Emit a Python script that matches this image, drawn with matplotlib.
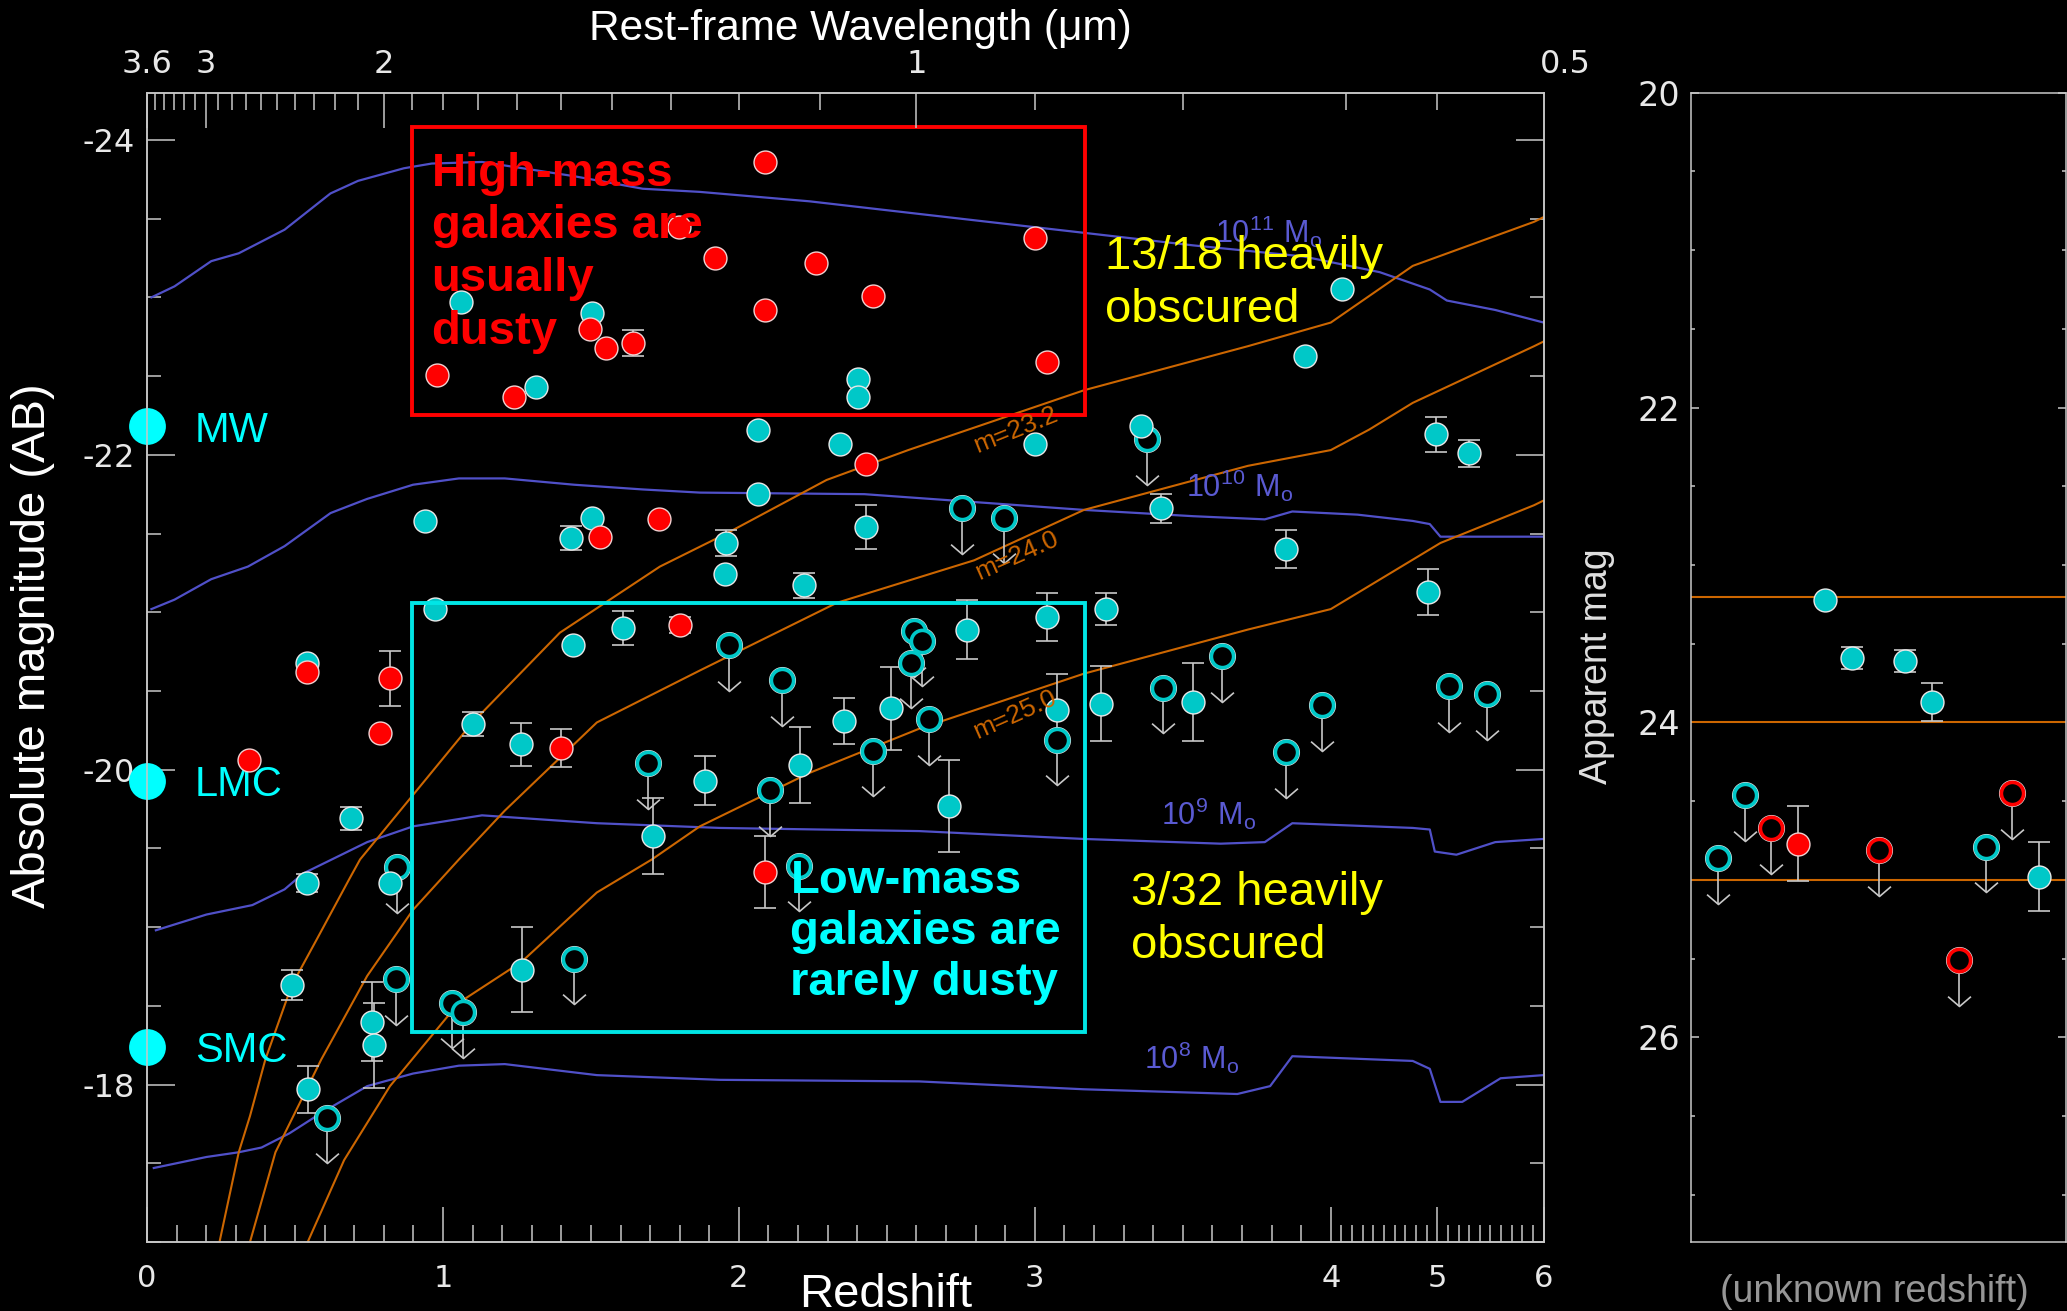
import numpy as np
import matplotlib
matplotlib.use("Agg")
import matplotlib.pyplot as plt
from matplotlib.path import Path
from matplotlib.patches import Rectangle
from matplotlib.ticker import MultipleLocator, FixedLocator

plt.rcParams['font.family'] = ['Liberation Sans', 'DejaVu Sans']
plt.rcParams['mathtext.fontset'] = 'custom'
plt.rcParams['mathtext.rm'] = 'Liberation Sans'
plt.rcParams['axes.unicode_minus'] = False

W, H = 2067, 1311

# ----------------------------
# Data
# ----------------------------

# mass tracks (redshift, absolute magnitude)
TRACK_11_Z = [0.015, 0.093, 0.217, 0.31, 0.465, 0.62, 0.713, 0.868, 0.962, 1.132, 1.442, 1.675,
              1.868, 2.239, 2.609, 2.98, 3.166, 3.536, 3.907, 4.46, 4.93, 5.09, 5.545, 6.0]
TRACK_11_M = [-23.0, -23.07, -23.23, -23.28, -23.43, -23.66, -23.74, -23.82, -23.85, -23.86, -23.77, -23.69,
              -23.67, -23.61, -23.53, -23.45, -23.41, -23.33, -23.26, -23.16, -23.05, -22.98, -22.92, -22.84]
TRACK_10_Z = [0.015, 0.093, 0.217, 0.341, 0.465, 0.62, 0.744, 0.899, 1.054, 1.209, 1.443, 1.675,
              1.868, 2.424, 2.795, 3.166, 3.536, 3.777, 3.87, 4.25, 4.77, 4.93, 5.03, 5.545, 6.0]
TRACK_10_M = [-21.02, -21.08, -21.21, -21.29, -21.42, -21.63, -21.72, -21.81, -21.85, -21.85, -21.81, -21.78,
              -21.76, -21.75, -21.70, -21.65, -21.61, -21.59, -21.64, -21.62, -21.58, -21.56, -21.48, -21.48, -21.48]
TRACK_9_Z = [0.03, 0.201, 0.356, 0.465, 0.527, 0.744, 0.899, 1.132, 1.209, 1.52, 1.936, 2.609,
             3.166, 3.628, 3.777, 3.87, 4.77, 4.93, 4.977, 5.18, 5.545, 6.0]
TRACK_9_M = [-18.98, -19.08, -19.14, -19.24, -19.34, -19.54, -19.64, -19.71, -19.70, -19.66, -19.63, -19.61,
             -19.56, -19.53, -19.54, -19.66, -19.63, -19.62, -19.48, -19.46, -19.54, -19.56]
TRACK_8_Z = [0.023, 0.201, 0.31, 0.387, 0.481, 0.589, 0.744, 0.899, 1.054, 1.209, 1.52, 1.936,
             2.609, 3.166, 3.684, 3.795, 3.87, 4.77, 4.93, 5.03, 5.235, 5.595, 6.0]
TRACK_8_M = [-17.47, -17.54, -17.57, -17.60, -17.69, -17.82, -17.99, -18.07, -18.12, -18.13, -18.06, -18.03,
             -18.02, -17.97, -17.94, -17.99, -18.18, -18.15, -18.10, -17.89, -17.89, -18.04, -18.06]
TRACK_LABELS = ['$\\mathregular{10^{11}\\ M_o}$', '$\\mathregular{10^{10}\\ M_o}$',
                '$\\mathregular{10^{9}\\ M_o}$', '$\\mathregular{10^{8}\\ M_o}$']

# apparent magnitude limits
MAG_LIMITS = [23.2, 24.0, 25.0]
LIM_232_Z = [0.245, 0.31, 0.348, 0.40, 0.489, 0.573, 0.682, 0.72, 1.10, 1.395, 1.733, 1.958,
             2.296, 2.572, 3.166, 3.72, 4.0, 4.77, 5.91, 6.0]
LIM_232_M = [-17.0, -17.57, -17.80, -18.16, -18.63, -18.92, -19.30, -19.43, -20.30, -20.87, -21.29, -21.50,
             -21.84, -22.03, -22.41, -22.69, -22.84, -23.20, -23.48, -23.51]
LIM_240_Z = [0.348, 0.434, 0.589, 0.744, 0.899, 1.054, 1.209, 1.52, 1.868, 2.331, 2.795, 3.166,
             3.72, 4.0, 4.36, 4.77, 5.91, 6.0]
LIM_240_M = [-17.0, -17.57, -18.16, -18.69, -19.11, -19.43, -19.74, -20.30, -20.63, -21.06, -21.33, -21.65,
             -21.93, -22.03, -22.16, -22.33, -22.69, -22.72]
LIM_250_Z = [0.543, 0.666, 0.821, 1.054, 1.266, 1.52, 1.706, 1.868, 2.239, 2.609, 3.166, 3.72,
             4.0, 5.03, 5.91, 6.0]
LIM_250_M = [-17.0, -17.52, -17.99, -18.52, -18.78, -19.22, -19.43, -19.64, -19.98, -20.26, -20.61, -20.89,
             -21.02, -21.44, -21.68, -21.71]

# detected, not dusty (filled cyan)
CYAN_Z = [1.062, 1.315, 1.504, 2.402, 2.402, 4.11, 3.912, 2.063, 2.341, 3.002, 3.36, 4.99, 5.30,
          2.063, 2.43, 3.425, 3.85, 1.957, 1.952, 2.22, 3.24, 4.91, 3.04, 2.77, 2.354, 2.513,
          2.207, 2.711, 1.887, 3.225, 3.536, 3.076, 0.938, 1.504, 1.434, 0.972, 1.439, 1.61,
          0.542, 1.101, 1.264, 1.709, 0.69, 0.542, 0.822, 0.489, 0.759, 0.768, 0.545, 1.266]
CYAN_M = [-22.97, -22.43, -22.90, -22.48, -22.37, -23.05, -22.63, -22.16, -22.07, -22.07, -22.18, -22.13, -22.01,
          -21.75, -21.54, -21.66, -21.40, -21.44, -21.24, -21.17, -21.02, -21.13, -20.97, -20.89, -20.31, -20.39,
          -20.03, -19.77, -19.93, -20.42, -20.43, -20.38, -21.58, -21.60, -21.47, -21.02, -20.79, -20.90,
          -20.68, -20.29, -20.16, -19.58, -19.69, -19.28, -19.28, -18.63, -18.40, -18.25, -17.97, -18.73]
CYAN_ERR = [0, 0, 0, 0, 0, 0, 0, 0, 0, 0, 0, 0.11, 0.085,
            0, 0.14, 0.09, 0.12, 0.08, 0, 0.08, 0.10, 0.145, 0.15, 0.19, 0.145, 0.265,
            0.24, 0.29, 0.155, 0.24, 0.245, 0.23, 0, 0, 0.075, 0, 0, 0.11,
            0, 0.075, 0.135, 0.24, 0.075, 0.06, 0, 0.095, 0.25, 0.27, 0.15, 0.27]

# heavily obscured (filled red)
RED_Z = [0.98, 1.241, 1.497, 1.551, 1.641, 1.797, 1.92, 2.087, 2.261, 2.087, 2.452, 3.002,
         3.04, 2.43, 1.532, 1.729, 1.802, 0.542, 0.822, 0.786, 0.346, 1.399, 2.087]
RED_M = [-22.51, -22.37, -22.80, -22.68, -22.71, -23.45, -23.25, -23.86, -23.22, -22.92, -23.01, -23.38,
         -22.59, -21.94, -21.48, -21.59, -20.92, -20.62, -20.58, -20.23, -20.06, -20.14, -19.35]
RED_ERR = [0, 0, 0, 0, 0.085, 0, 0, 0, 0, 0, 0, 0,
           0, 0, 0, 0, 0.05, 0, 0.175, 0, 0, 0.12, 0.23]

# upper limits (open cyan)
LIM_Z = [3.378, 2.754, 2.897, 2.591, 2.618, 2.582, 1.967, 2.146, 2.643, 2.452, 2.105, 2.202, 3.434,
         3.632, 3.97, 3.85, 5.11, 5.47, 3.076, 1.694, 0.845, 0.84, 0.608, 1.031, 1.067, 1.442]
LIM_M = [-22.10, -21.66, -21.60, -20.88, -20.82, -20.68, -20.79, -20.57, -20.32, -20.12, -19.87, -19.39, -20.52,
         -20.72, -20.41, -20.11, -20.53, -20.48, -20.19, -20.04, -19.38, -18.67, -17.79, -18.52, -18.46, -18.80]

# local reference galaxies
REF_NAMES = ['MW', 'LMC', 'SMC']
REF_M = [-22.18, -19.93, -18.24]

# unknown-redshift sources (apparent mag), slot 1..13
U_CYAN_X = [5, 6, 8, 9, 13]
U_CYAN_MAG = [23.22, 23.59, 23.61, 23.87, 24.98]
U_CYAN_ERR = [0, 0.07, 0.07, 0.12, 0.22]
U_RED_X = [4]
U_RED_MAG = [24.77]
U_RED_ERR = [0.24]
U_LIMC_X = [1, 2, 11]
U_LIMC_MAG = [24.86, 24.46, 24.79]
U_LIMR_X = [3, 7, 10, 12]
U_LIMR_MAG = [24.67, 24.81, 25.51, 24.45]

Z_TICKS = [0, 1, 2, 3, 4, 5, 6]
Y_TICKS = [-24, -22, -20, -18]
APP_TICKS = [20, 22, 24, 26]
TOP_LAMBDA = [3.6, 3, 2, 1]
TOP_MINOR_LAMBDA = [round(v, 1) for v in np.arange(0.6, 3.55, 0.1)]

# ----------------------------
# Style
# ----------------------------
CYAN = '#00c8c8'
BRIGHT_CYAN = '#00ffff'
RED = '#ff0000'
BLUE = '#5050c8'
ORANGE = '#cc6600'
YELLOW = '#ffff00'
GREY = '#c8c8c8'
LABEL = '#e8e8e8'
TICKFONT = 'DejaVu Sans'
ARROW = 0.29
VHEAD = Path([(-1, 0.86), (0, 0), (1, 0.86)], [Path.MOVETO, Path.LINETO, Path.LINETO])


def fwd(z):
    z = np.asarray(z, dtype=float)
    return np.where(z <= 4, z, 4 + (z - 4) / 2.78)


def inv(u):
    u = np.asarray(u, dtype=float)
    return np.where(u <= 4, u, 4 + (u - 4) * 2.78)


def ftext(x, y, s, **kw):
    """text at pixel position of the 2067x1311 canvas"""
    return fig.text(x / W, 1 - y / H, s, **kw)


def draw_points(a, x, y, err, face, edge):
    x, y, err = np.asarray(x), np.asarray(y), np.asarray(err)
    m = err > 0
    if m.any():
        a.errorbar(x[m], y[m], yerr=err[m], fmt='none', ecolor=GREY, elinewidth=1.2,
                   capsize=8, capthick=1.2, zorder=3)
    a.plot(x, y, 'o', ms=16.5, mfc=face, mec=edge, mew=1.0, ls='none', zorder=4)


def draw_limits(a, x, y, ring):
    x, y = np.asarray(x), np.asarray(y)
    a.vlines(x, y, y + ARROW, color=GREY, lw=1.2, zorder=3)
    a.plot(x, y + ARROW, ls='none', marker=VHEAD, ms=16.5, mfc='none', mec=GREY, mew=1.2, zorder=3)
    a.plot(x, y, 'o', ms=18.5, mfc='none', mec='#e0e0e0', mew=1.0, ls='none', zorder=4)
    a.plot(x, y, 'o', ms=16.0, mfc='black', mec=ring, mew=2.6, ls='none', zorder=4)


def style_spines(a):
    for s in a.spines.values():
        s.set_color(GREY)
        s.set_linewidth(1.1)


fig = plt.figure(figsize=(W / 100, H / 100), dpi=100, facecolor='black')

# ----------------------------
# Main panel
# ----------------------------
ax = fig.add_axes([147 / W, 1 - 1242 / H, (1543.7 - 147) / W, (1242 - 92.7) / H])
ax.set_facecolor('black')
ax.set_xscale('function', functions=(fwd, inv))
ax.set_xlim(0, 6)
ax.set_ylim(-17.0, -24.3)
style_spines(ax)

for zz, mm in [(TRACK_11_Z, TRACK_11_M), (TRACK_10_Z, TRACK_10_M), (TRACK_9_Z, TRACK_9_M), (TRACK_8_Z, TRACK_8_M)]:
    ax.plot(zz, mm, color=BLUE, lw=1.6, zorder=2)
for zz, mm in [(LIM_232_Z, LIM_232_M), (LIM_240_Z, LIM_240_M), (LIM_250_Z, LIM_250_M)]:
    ax.plot(zz, mm, color=ORANGE, lw=1.5, zorder=2)

draw_limits(ax, LIM_Z, LIM_M, CYAN)
draw_points(ax, CYAN_Z, CYAN_M, CYAN_ERR, CYAN, '#e8e8e8')
draw_points(ax, RED_Z, RED_M, RED_ERR, RED, '#f0d0d0')

ax.plot([0] * len(REF_M), REF_M, 'o', ms=26.5, color=BRIGHT_CYAN, mec='none', clip_on=False, zorder=6)
for name, m in zip(REF_NAMES, REF_M):
    ax.annotate(name, xy=(0, m), xytext=(34.5, 0), textcoords='offset points', ha='left',
                va='center_baseline', fontsize=30, color=BRIGHT_CYAN, annotation_clip=False)

# annotation boxes
ax.add_patch(Rectangle((0.895, -24.084), 3.169 - 0.895, 24.084 - 22.254, fill=False,
                       ec=RED, lw=2.8, zorder=5))
ax.add_patch(Rectangle((0.895, -21.058), 3.169 - 0.895, 21.058 - 18.335, fill=False,
                       ec='#00e6e6', lw=2.8, zorder=5))

ax.tick_params(axis='both', which='both', direction='in', colors=GREY, labelcolor=LABEL)
ax.tick_params(axis='y', which='major', length=20, width=1.1, left=True, right=True, labelsize=23, pad=9)
ax.tick_params(axis='y', which='minor', length=10, width=1.1, left=True, right=True)
ax.tick_params(axis='x', which='major', length=25, width=1.1, bottom=True, top=False, labelsize=22, pad=16)
ax.tick_params(axis='x', which='minor', length=12, width=1.1, bottom=True, top=False)
ax.yaxis.set_major_locator(FixedLocator(Y_TICKS))
ax.yaxis.set_minor_locator(MultipleLocator(0.5))
ax.xaxis.set_major_locator(FixedLocator(Z_TICKS))
ax.xaxis.set_minor_locator(MultipleLocator(0.1))
ax.set_xticklabels([str(t) for t in Z_TICKS], fontfamily=TICKFONT)
ax.set_yticklabels([str(t) for t in Y_TICKS], fontfamily=TICKFONT)

# rest-frame wavelength axis on top
axt = ax.twiny()
axt.set_xscale('function', functions=(fwd, inv))
axt.set_xlim(0, 6)
style_spines(axt)
axt.xaxis.set_major_locator(FixedLocator([3.6 / l - 1 for l in TOP_LAMBDA]))
axt.xaxis.set_minor_locator(FixedLocator([3.6 / l - 1 for l in TOP_MINOR_LAMBDA if l not in TOP_LAMBDA]))
axt.tick_params(axis='x', which='both', direction='in', colors=GREY, labelcolor=LABEL,
                top=True, bottom=False)
axt.tick_params(axis='x', which='major', length=25, width=1.1, labelsize=23, pad=9)
axt.tick_params(axis='x', which='minor', length=12, width=1.1)
axt.set_xticklabels([f'{l:g}' for l in TOP_LAMBDA], fontfamily=TICKFONT)
axt.annotate('0.5', xy=(3.6 / 0.5 - 1, 1), xycoords=('data', 'axes fraction'), xytext=(0, 9),
             textcoords='offset points', ha='center', va='bottom', fontsize=23, color=LABEL,
             fontfamily=TICKFONT, annotation_clip=False)

# ----------------------------
# Unknown-redshift panel
# ----------------------------
ax2 = fig.add_axes([1691 / W, 1 - 1242 / H, (2066 - 1691) / W, (1242 - 92.7) / H])
ax2.set_facecolor('black')
ax2.set_xlim(0, 14)
ax2.set_ylim(27.3, 20)
style_spines(ax2)
for m in MAG_LIMITS:
    ax2.axhline(m, color=ORANGE, lw=1.5, zorder=2)
draw_limits(ax2, U_LIMC_X, U_LIMC_MAG, CYAN)
draw_limits(ax2, U_LIMR_X, U_LIMR_MAG, RED)
draw_points(ax2, U_CYAN_X, U_CYAN_MAG, U_CYAN_ERR, CYAN, '#e8e8e8')
draw_points(ax2, U_RED_X, U_RED_MAG, U_RED_ERR, RED, '#f0d0d0')
ax2.set_xticks([])
ax2.yaxis.set_major_locator(FixedLocator(APP_TICKS))
ax2.yaxis.set_minor_locator(MultipleLocator(0.5))
ax2.tick_params(axis='y', which='both', direction='in', colors=GREY, labelcolor=LABEL, left=True, right=True)
ax2.tick_params(axis='y', which='major', length=6, width=1.1, labelsize=24, pad=8)
ax2.tick_params(axis='y', which='minor', length=3, width=1.1)
ax2.set_yticklabels([str(t) for t in APP_TICKS], fontfamily=TICKFONT)

# ----------------------------
# Text
# ----------------------------
ftext(33, 646, 'Absolute magnitude (AB)', rotation=90, ha='center', va='center', fontsize=34, color='white')
ftext(798.7, 1307, 'Redshift', ha='left', va='baseline', fontsize=34, color='white')
ftext(860, 40, 'Rest-frame Wavelength (\u03bcm)', ha='center', va='baseline', fontsize=30.5, color='white')
ftext(1597, 666, 'Apparent mag', rotation=90, ha='center', va='center', fontsize=27, color='#e0e0e0')
ftext(1874.5, 1292, '(unknown redshift)', ha='center', va='center', fontsize=27, color='#969696')

for line, y in zip(['High-mass', 'galaxies are', 'usually', 'dusty'], [186, 238, 291, 344]):
    ftext(431.6, y, line, ha='left', va='baseline', fontsize=34, fontweight='bold', color=RED, zorder=7)
for line, y in zip(['Low-mass', 'galaxies are', 'rarely dusty'], [893, 944, 995]):
    ftext(790.5, y, line, ha='left', va='baseline', fontsize=34, fontweight='bold', color=BRIGHT_CYAN, zorder=7)
for line, y in zip(['13/18 heavily', 'obscured'], [269, 322]):
    ftext(1104.8, y, line, ha='left', va='baseline', fontsize=34, color=YELLOW, zorder=7)
for line, y in zip(['3/32 heavily', 'obscured'], [905, 958]):
    ftext(1130.6, y, line, ha='left', va='baseline', fontsize=34, color=YELLOW, zorder=7)

for lab, (x, y) in zip(TRACK_LABELS, [(1215, 243), (1185.5, 497), (1160.8, 825), (1144.3, 1069)]):
    ftext(x, y, lab, ha='left', va='baseline', fontsize=22, color='#5a5ad2')

for m, (x, y, r) in zip(MAG_LIMITS, [(1016, 430, 22), (1016.5, 556, 24), (1015, 715, 24)]):
    ftext(x, y, f'm={m:.1f}', ha='center', va='center', rotation=r, rotation_mode='anchor',
          fontsize=19, color=ORANGE)

fig.savefig('out.png', dpi=100, facecolor='black')
